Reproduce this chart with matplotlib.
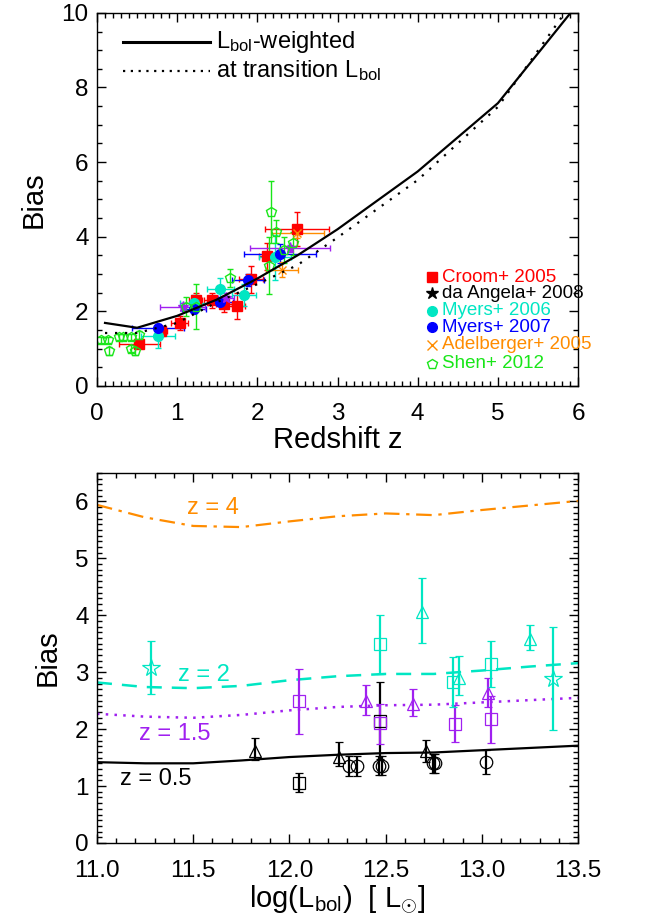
import numpy as np
import matplotlib
matplotlib.use('Agg')
import matplotlib.pyplot as plt
from matplotlib.ticker import MultipleLocator

plt.rcParams['font.family'] = ['Liberation Sans', 'DejaVu Sans']
plt.rcParams['mathtext.fontset'] = 'custom'
plt.rcParams['mathtext.rm'] = 'Liberation Sans'
plt.rcParams['mathtext.it'] = 'Liberation Sans:italic'

RED = '#ff0000'
CYAN = '#00e6c3'
BLUE = '#0000ff'
ORANGE = '#ff8c00'
GREEN = '#19e619'
PURPLE = '#a020f0'

# ---- top panel: bias vs redshift ----
z_model = [0.1, 0.5, 1.0, 1.5, 2.0, 2.5, 3.0, 4.0, 5.0, 6.0]
bias_lweighted = [1.69, 1.56, 1.88, 2.32, 2.88, 3.50, 4.20, 5.75, 7.58, 10.25]
bias_transition = [1.42, 1.42, 1.69, 2.25, 2.73, 3.24, 3.98, 5.52, 7.48, 10.5]

croom_z = [0.53, 0.80, 1.03, 1.23, 1.43, 1.58, 1.74, 1.92, 2.12, 2.49]
croom_b = [1.12, 1.47, 1.69, 2.30, 2.30, 2.19, 2.15, 2.86, 3.48, 4.20]
croom_xerr = [0.25, 0.07, 0.11, 0.08, 0.10, 0.10, 0.10, 0.15, 0.10, 0.40]
croom_yerr = [0.11, 0.13, 0.18, 0.18, 0.20, 0.22, 0.35, 0.36, 0.36, 0.46]

myers06_z = [0.76, 1.21, 1.54, 1.83, 2.22]
myers06_b = [1.33, 2.23, 2.59, 2.44, 3.45]
myers06_xerr = [0.21, 0.17, 0.17, 0.15, 0.20]
myers06_yerr = [0.30, 0.22, 0.30, 0.30, 0.60]

myers07_z = [0.76, 1.21, 1.54, 1.88, 2.28]
myers07_b = [1.56, 2.05, 2.24, 2.84, 3.55]
myers07_xerr = [0.32, 0.15, 0.16, 0.20, 0.45]
myers07_yerr = [0.10, 0.10, 0.10, 0.15, 0.25]

angela_z = [1.07, 1.61, 2.41]
angela_b = [2.13, 2.37, 3.69]
angela_xerr = [0.28, 0.10, 0.50]
angela_yerr = [0.10, 0.12, 0.10]

adel_z = [2.31, 2.50]
adel_b = [3.11, 4.09]
adel_xerr = [0.20, 0.33]
adel_yerr = [0.20, 0.12]

shen_z = [0.05, 0.14, 0.15, 0.28, 0.32, 0.42, 0.42, 0.48, 0.53,
          1.11, 1.24, 1.66, 2.14, 2.17, 2.23, 2.33, 2.45]
shen_b = [1.23, 1.23, 0.94, 1.30, 1.30, 1.30, 1.00, 0.94, 1.36,
          2.13, 2.13, 2.89, 3.22, 4.67, 4.14, 3.65, 3.82]
shen_yerr = [0.08, 0.08, 0.10, 0.08, 0.08, 0.08, 0.10, 0.10, 0.12,
             0.25, 0.60, 0.25, 0.76, 0.83, 0.30, 0.35, 0.30]

# ---- bottom panel: bias vs luminosity ----
logL_model = [11.0, 11.25, 11.5, 11.75, 12.0, 12.25, 12.5, 12.75, 13.0, 13.25, 13.5]
bias_z4 = [5.94, 5.72, 5.57, 5.55, 5.65, 5.74, 5.79, 5.76, 5.85, 5.93, 6.01]
bias_z2 = [2.82, 2.74, 2.72, 2.76, 2.86, 2.93, 2.97, 2.97, 3.03, 3.10, 3.16]
bias_z15 = [2.27, 2.22, 2.20, 2.25, 2.33, 2.39, 2.42, 2.43, 2.47, 2.51, 2.55]
bias_z05 = [1.42, 1.40, 1.40, 1.45, 1.51, 1.55, 1.58, 1.59, 1.63, 1.67, 1.71]

# (logL, bias, err_low, err_high, marker)
cyan_pts = [(11.28, 3.07, 0.46, 0.48, '*'), (12.47, 3.49, 0.52, 0.51, 's'),
            (12.69, 4.06, 0.55, 0.60, '^'), (12.85, 2.82, 0.43, 0.45, 's'),
            (12.88, 2.89, 0.29, 0.40, '^'), (13.05, 3.15, 0.41, 0.40, 's'),
            (13.25, 3.58, 0.19, 0.25, '^'), (13.37, 2.88, 0.90, 0.92, '*')]
purple_pts = [(12.05, 2.49, 0.57, 0.57, 's'), (12.40, 2.49, 0.24, 0.29, '^'),
              (12.47, 2.11, 0.37, 0.33, 's'), (12.64, 2.44, 0.21, 0.26, '^'),
              (12.86, 2.09, 0.31, 0.34, 's'), (13.03, 2.64, 0.25, 0.25, '^'),
              (13.05, 2.18, 0.43, 0.40, 's')]
black_pts = [(11.82, 1.62, 0.17, 0.22, '^'), (12.05, 1.06, 0.17, 0.17, 's'),
             (12.26, 1.51, 0.16, 0.27, '^'), (12.31, 1.36, 0.18, 0.16, 'o'),
             (12.35, 1.36, 0.18, 0.16, 'o'), (12.47, 2.15, 0.67, 0.67, 's'),
             (12.465, 1.36, 0.17, 0.17, 'o'), (12.48, 1.36, 0.17, 0.17, 'o'),
             (12.71, 1.61, 0.19, 0.20, '^'), (12.745, 1.40, 0.17, 0.17, 'o'),
             (12.755, 1.40, 0.17, 0.17, 'o'), (13.02, 1.42, 0.20, 0.21, 'o')]

fig = plt.figure(figsize=(6.51, 9.19), dpi=100)
ax1 = fig.add_axes([0.149, 0.580, 0.739, 0.406])
ax2 = fig.add_axes([0.149, 0.0827, 0.739, 0.4026])

def style_axis(ax):
    ax.tick_params(which='both', direction='in', top=True, right=True,
                   width=1.0, color='k')
    ax.tick_params(which='major', length=6.5)
    ax.tick_params(which='minor', length=3.5)
    ax.tick_params(axis='x', labelsize=17.5, pad=12)
    ax.tick_params(axis='y', labelsize=17.5, pad=6)
    for s in ax.spines.values():
        s.set_linewidth(1.0)

# top panel
ax1.plot(z_model, bias_lweighted, color='k', lw=1.6, zorder=5)
ax1.plot(z_model, bias_transition, color='k', lw=1.6, ls=(0, (1, 3.5)), zorder=5)

ekw = dict(capsize=2.5, elinewidth=1.0, capthick=1.0, ls='none')
ax1.errorbar(croom_z, croom_b, xerr=croom_xerr, yerr=croom_yerr, color=RED,
             marker='s', ms=7, **ekw)
ax1.errorbar(myers06_z, myers06_b, xerr=myers06_xerr, yerr=myers06_yerr, color=CYAN,
             marker='o', ms=7, **ekw)
ax1.errorbar(myers07_z, myers07_b, xerr=myers07_xerr, yerr=myers07_yerr, color=BLUE,
             marker='o', ms=7, **ekw)
ax1.errorbar(angela_z, angela_b, xerr=angela_xerr, yerr=angela_yerr, color=PURPLE,
             marker='*', ms=8, **ekw)
ax1.errorbar(adel_z, adel_b, xerr=adel_xerr, yerr=adel_yerr, color=ORANGE,
             marker='x', ms=6, **ekw)
ax1.errorbar(shen_z, shen_b, yerr=shen_yerr, color=GREEN, marker='p', ms=7,
             mfc='none', mec=GREEN, **ekw)

ax1.set_xlim(0, 6)
ax1.set_ylim(0, 10)
ax1.xaxis.set_major_locator(MultipleLocator(1))
ax1.xaxis.set_minor_locator(MultipleLocator(0.1))
ax1.yaxis.set_major_locator(MultipleLocator(2))
ax1.yaxis.set_minor_locator(MultipleLocator(0.5))
style_axis(ax1)
ax1.set_xlabel('Redshift z', fontsize=21, labelpad=1)
ax1.set_ylabel('Bias', fontsize=21, labelpad=10)

# line legend
ax1.plot([0.054, 0.235], [0.922, 0.922], color='k', lw=2.2, transform=ax1.transAxes)
ax1.plot([0.054, 0.235], [0.845, 0.845], color='k', lw=1.6, ls=(0, (1, 2.5)),
         transform=ax1.transAxes)
ax1.text(0.247, 0.922, r'L$_{\rm bol}$-weighted', fontsize=17, va='center',
         transform=ax1.transAxes)
ax1.text(0.247, 0.845, r'at transition L$_{\rm bol}$', fontsize=17, va='center',
         transform=ax1.transAxes)

# data legend
leg_rows = [('Croom+ 2005', RED, 's', RED), ('da Angela+ 2008', 'k', '*', 'k'),
            ('Myers+ 2006', CYAN, 'o', CYAN), ('Myers+ 2007', BLUE, 'o', BLUE),
            ('Adelberger+ 2005', ORANGE, 'x', ORANGE), ('Shen+ 2012', GREEN, 'p', 'none')]
leg_y = [0.291, 0.248, 0.202, 0.157, 0.110, 0.060]
for (lab, col, mk, fc), yy in zip(leg_rows, leg_y):
    ax1.plot([0.697], [yy], marker=mk, color=col, mfc=fc, mec=col,
             ms=9 if mk == '*' else 7, transform=ax1.transAxes, clip_on=False)
    ax1.text(0.718, yy, lab, color=col, fontsize=13.5, va='center',
             transform=ax1.transAxes)

# bottom panel
ax2.plot(logL_model, bias_z4, color=ORANGE, lw=1.6, ls=(0, (7, 3, 1.5, 3)))
ax2.plot(logL_model, bias_z2, color=CYAN, lw=1.8, ls=(0, (6, 4)))
ax2.plot(logL_model, bias_z15, color=PURPLE, lw=1.8, ls=(0, (1, 2.5)))
ax2.plot(logL_model, bias_z05, color='k', lw=1.6)

ax2.text(11.47, 5.89, 'z = 4', color=ORANGE, fontsize=17, va='center')
ax2.text(11.42, 2.95, 'z = 2', color=CYAN, fontsize=17, va='center')
ax2.text(11.22, 1.91, 'z = 1.5', color=PURPLE, fontsize=17, va='center')
ax2.text(11.12, 1.12, 'z = 0.5', color='k', fontsize=17, va='center')

for pts, col in [(black_pts, 'k'), (purple_pts, PURPLE), (cyan_pts, CYAN)]:
    for x, y, lo, hi, mk in pts:
        ax2.errorbar([x], [y], yerr=[[lo], [hi]], color=col, marker=mk,
                     ms=13 if mk == '*' else 9, mfc='none', mec=col, mew=0.9,
                     capsize=3, elinewidth=1.6, capthick=1.6, ls='none')

ax2.set_xlim(11.0, 13.5)
ax2.set_ylim(0, 6.5)
ax2.xaxis.set_major_locator(MultipleLocator(0.5))
ax2.xaxis.set_minor_locator(MultipleLocator(0.1))
ax2.yaxis.set_major_locator(MultipleLocator(1))
ax2.yaxis.set_minor_locator(MultipleLocator(0.1))
ax2.xaxis.set_major_formatter(matplotlib.ticker.FormatStrFormatter('%.1f'))
style_axis(ax2)
ax2.set_xlabel(r'log(L$_{\rm bol}$)  [ L$_{\odot}$]', fontsize=21, labelpad=1)
ax2.set_ylabel('Bias', fontsize=21, labelpad=10)

fig.savefig('out.png', dpi=100)
